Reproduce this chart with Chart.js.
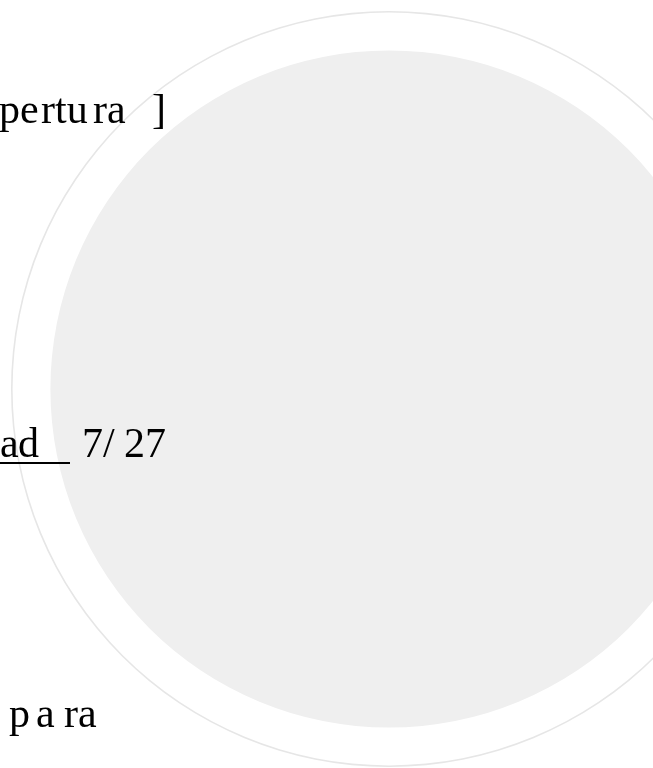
<!DOCTYPE html>
<html>
<head>
<meta charset="utf-8">
<script src="https://cdn.jsdelivr.net/npm/chart.js@4/dist/chart.umd.min.js"></script>
<style>
  html, body { margin: 0; padding: 0; background: #fff; overflow: hidden; width: 653px; height: 768px; }
  #wrap { position: absolute; left: 11px; top: 11px; width: 756px; height: 756px; }
  .t {
    position: absolute;
    font-family: "Liberation Serif", "Times New Roman", serif;
    font-size: 42px;
    line-height: 42px;
    color: #000;
    white-space: pre;
  }
  .ul { position: absolute; left: 0; top: 462px; width: 70px; height: 2px; background: #000; }
</style>
</head>
<body>
<div id="wrap"><canvas id="circles" width="756" height="756"></canvas></div>

<!-- text fragments, left over from the slide -->
<div class="t" style="left:-1px;top:88px">p</div>
<div class="t" style="left:20px;top:88px">e</div>
<div class="t" style="left:41px;top:88px">rtu</div>
<div class="t" style="left:93px;top:88px">r</div>
<div class="t" style="left:107px;top:88px">a</div>
<div class="t" style="left:152px;top:88px">]</div>

<div class="t" style="left:0px;top:422px">a</div>
<div class="t" style="left:18px;top:422px">d</div>
<div class="ul"></div>
<div class="t" style="left:82px;top:422px">7/</div>
<div class="t" style="left:124px;top:422px">27</div>

<div class="t" style="left:9px;top:692px">p</div>
<div class="t" style="left:36px;top:692px">a</div>
<div class="t" style="left:64px;top:692px">ra</div>

<script>
// CIRCLE DATA
// ===========
const ringLabels = ['Anillo', 'Espacio', 'Disco'];
const ringValues = [1];
const gapValues = [1];
const discValues = [1];

// thickness of each layer (outside to inside), px of a 378 px radius
const ringWeights = [1.6, 37.8, 338.6];

const ctx = document.getElementById('circles').getContext('2d');

const circleChart = new Chart(ctx, {
    type: 'pie',
    data: {
        labels: ['Círculo'],
        datasets: [
            {
                label: ringLabels[0],
                data: ringValues,
                backgroundColor: '#e6e6e6',
                borderWidth: 0,
                weight: ringWeights[0],
            },
            {
                label: ringLabels[1],
                data: gapValues,
                backgroundColor: 'rgba(255,255,255,0)',
                borderWidth: 0,
                weight: ringWeights[1],
            },
            {
                label: ringLabels[2],
                data: discValues,
                backgroundColor: '#efefef',
                borderWidth: 0,
                weight: ringWeights[2],
            },
        ],
    },
    options: {
        responsive: false,
        animation: false,
        events: [],
        layout: { padding: 0 },
        elements: { arc: { borderWidth: 0, hoverBorderWidth: 0, hoverOffset: 0 } },
        plugins: {
            legend: { display: false },
            tooltip: { enabled: false },
        },
    },
});
</script>
</body>
</html>
